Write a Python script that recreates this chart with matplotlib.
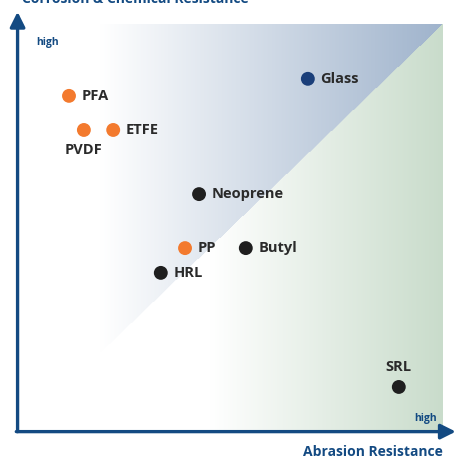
import numpy as np
import matplotlib
matplotlib.use('Agg')
import matplotlib.pyplot as plt

# material positions (abrasion resistance vs corrosion/chemical resistance, 0-10 scale)
materials = ['PFA', 'PVDF', 'ETFE', 'Glass', 'Neoprene', 'PP', 'Butyl', 'HRL', 'SRL']
abrasion = [1.20, 1.55, 2.24, 6.82, 4.26, 3.93, 5.36, 3.36, 8.96]
corrosion = [8.23, 7.39, 7.39, 8.65, 5.81, 4.48, 4.48, 3.87, 1.06]
groups = ['fluoro', 'fluoro', 'fluoro', 'glass', 'rubber', 'fluoro', 'rubber', 'rubber', 'rubber']
label_pos = ['right', 'below', 'right', 'right', 'right', 'right', 'right', 'right', 'above']

colors = {'fluoro': '#f37a2e', 'glass': '#1b3f7a', 'rubber': '#1f1f1f'}
axis_blue = '#134a82'
text_dark = '#2a2a2a'

plt.rcParams['font.family'] = ['Open Sans', 'DejaVu Sans']

W, H = 455, 459
fig = plt.figure(figsize=(W / 100, H / 100), dpi=100)
left, right, top, bottom = 18, 443, 24, 430
ax = fig.add_axes([left / W, 1 - bottom / H, (right - left) / W, (bottom - top) / H])
ax.set_xlim(0, 10)
ax.set_ylim(0, 10)
ax.axis('off')

# background: blue gradient above diagonal, green gradient below
nx, ny = 425, 406
u = np.linspace(0, 1, nx)[None, :].repeat(ny, 0)
v = np.linspace(1, 0, ny)[:, None].repeat(nx, 1)
blue = np.array([159, 179, 204]) / 255
green = np.array([201, 220, 203]) / 255
tb = np.clip((u - 0.19) / 0.81, 0, 1)[..., None]
tg = np.clip((u - 0.45) / 0.55, 0, 1)[..., None]
img_b = 1 - tb * (1 - blue)
img_g = 1 - tg * (1 - green)
img = np.where((v > u)[..., None], img_b, img_g)
ax.imshow(img, extent=[0.05, 10, 0, 10], aspect='auto', zorder=0, interpolation='bilinear')

# axis arrows
arrow = dict(arrowstyle='-|>,head_length=0.9,head_width=0.45', color=axis_blue, lw=2.4,
             shrinkA=0, shrinkB=0)
ax.annotate('', xy=(-0.001, 1.03), xytext=(-0.001, -0.004), xycoords='axes fraction',
            arrowprops=arrow, annotation_clip=False)
ax.annotate('', xy=(1.03, -0.004), xytext=(-0.004, -0.004), xycoords='axes fraction',
            arrowprops=arrow, annotation_clip=False)

fs = 10.5
for name, x, y, g, pos in zip(materials, abrasion, corrosion, groups, label_pos):
    ax.scatter(x, y, s=100, color=colors[g], zorder=3, edgecolors='none')
    if pos == 'right':
        ax.text(x + 0.3, y, name, ha='left', va='center', fontsize=fs,
                fontweight='bold', color=text_dark)
    elif pos == 'below':
        ax.text(x, y - 0.33, name, ha='center', va='top', fontsize=fs,
                fontweight='bold', color=text_dark)
    else:
        ax.text(x, y + 0.33, name, ha='center', va='bottom', fontsize=fs,
                fontweight='bold', color=text_dark)

fig.text(36 / W, 1 - 43 / H, 'high', fontsize=7.5, fontweight='bold', color=axis_blue,
         ha='left', va='center')
fig.text(437 / W, 1 - 419 / H, 'high', fontsize=7.5, fontweight='bold', color=axis_blue,
         ha='right', va='center')
fig.text(443 / W, 1 - 452 / H, 'Abrasion Resistance', fontsize=10, fontweight='bold',
         color=axis_blue, ha='right', va='center')
fig.text(22 / W, 1 - 3 / H, 'Corrosion & Chemical Resistance', fontsize=10,
         fontweight='bold', color=axis_blue, ha='left', va='baseline')

fig.savefig('out.png', dpi=100)
